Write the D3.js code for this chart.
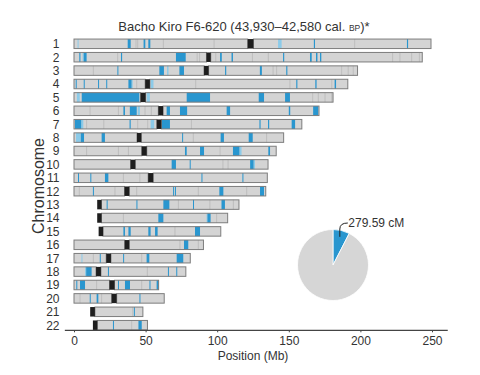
<!DOCTYPE html>
<html>
<head>
<meta charset="utf-8">
<script src="https://cdn.jsdelivr.net/npm/d3@7"></script>
<style>
    body { margin: 0; background: #fff; }
    text { font-family: "Liberation Sans", Arial, sans-serif; fill: #333; }
</style>
</head>
<body>
<svg id="chart" width="480" height="375"></svg>
<script>
const chromosomes = ['1', '2', '3', '4', '5', '6', '7', '8', '9', '10', '11',
    '12', '13', '14', '15', '16', '17', '18', '19', '20', '21', '22'];
// hg19 lengths and centromeres, Mb
const chromLengths = [249.3, 243.2, 198.0, 191.2, 180.9, 171.1, 159.1, 146.4, 141.2, 135.5, 135.0,
    133.9, 115.2, 107.3, 102.5, 90.4, 81.2, 78.1, 59.1, 63.0, 48.1, 51.3];
const centromereStart = [121.3, 92.5, 90.8, 49.7, 46.5, 58.9, 57.8, 44.0, 47.3, 39.5, 51.8,
    35.3, 16.2, 16.2, 17.2, 35.4, 22.5, 15.4, 24.8, 26.3, 11.3, 13.2];
const centromereEnd = [125.3, 95.5, 94.0, 53.0, 50.0, 62.2, 61.0, 47.0, 50.8, 42.8, 55.3,
    38.6, 19.2, 19.2, 20.3, 38.6, 25.8, 18.8, 28.3, 29.8, 14.6, 16.3];
const acrocentric = ['13', '14', '15', '21', '22'];

// [chromosome, start Mb, end Mb]
const blueSegments = [
    ['1', 37.5, 39.6], ['1', 48.6, 49.8], ['1', 51.9, 53.3], ['1', 167.5, 168.3], ['1', 232.5, 233.3],
    ['2', 3.7, 4.5], ['2', 6.8, 8.8], ['2', 32.8, 33.6], ['2', 71.2, 78.0], ['2', 102.0, 103.2],
    ['2', 110.0, 111.0], ['2', 146.0, 146.8], ['2', 164.8, 166.0], ['2', 169.0, 170.0], ['2', 171.8, 172.7],
    ['3', 30.3, 31.0], ['3', 59.6, 62.8], ['3', 73.6, 76.8], ['3', 105.5, 106.3], ['3', 129.8, 131.2],
    ['3', 148.2, 149.0],
    ['4', 1.2, 1.9], ['4', 6.8, 7.4], ['4', 16.8, 17.4], ['4', 22.5, 23.1], ['4', 38.0, 40.2],
    ['4', 155.2, 156.0], ['4', 168.5, 169.4], ['4', 182.0, 183.0],
    ['5', 5.4, 45.6], ['5', 78.7, 95.0], ['5', 129.0, 132.7], ['5', 147.4, 150.8],
    ['6', 34.5, 35.6], ['6', 39.0, 43.8], ['6', 64.7, 67.0], ['6', 74.0, 79.0], ['6', 106.6, 109.0],
    ['6', 150.0, 151.0], ['6', 167.0, 170.6],
    ['7', 0.7, 5.0], ['7', 38.8, 39.6], ['7', 61.2, 67.0], ['7', 129.5, 130.3], ['7', 135.5, 136.3],
    ['7', 152.0, 154.4],
    ['8', 4.7, 7.0], ['8', 19.3, 21.6], ['8', 75.5, 76.2], ['8', 102.4, 104.7], ['8', 122.0, 124.8],
    ['9', 77.5, 78.7], ['9', 88.0, 90.8], ['9', 111.0, 115.5], ['9', 135.7, 136.9],
    ['10', 68.2, 71.2], ['10', 80.8, 81.5], ['10', 123.0, 125.4],
    ['11', 2.8, 3.4], ['11', 11.4, 12.0], ['11', 21.6, 24.0], ['11', 89.0, 89.7], ['11', 117.6, 118.3],
    ['12', 13.2, 13.9], ['12', 69.2, 69.9], ['12', 70.5, 71.2], ['12', 101.5, 104.3], ['12', 129.9, 132.7],
    ['13', 22.8, 23.5], ['13', 43.6, 44.3], ['13', 62.4, 66.6], ['13', 83.1, 83.8], ['13', 103.0, 105.4],
    ['14', 58.9, 62.4], ['14', 93.2, 95.4],
    ['15', 34.5, 35.6], ['15', 38.0, 39.6], ['15', 51.9, 53.5], ['15', 56.6, 58.4], ['15', 84.5, 88.0],
    ['16', 76.8, 79.8],
    ['17', 18.0, 18.6], ['17', 34.3, 35.0], ['17', 50.7, 52.6], ['17', 71.7, 76.3],
    ['18', 8.5, 12.3], ['18', 23.7, 24.4], ['18', 65.6, 66.3], ['18', 71.4, 72.1],
    ['19', 1.6, 2.2], ['19', 4.2, 7.7], ['19', 30.7, 31.4], ['19', 35.6, 39.1], ['19', 52.7, 53.4],
    ['19', 57.7, 59.1],
    ['20', 11.0, 11.7], ['20', 15.8, 17.0], ['20', 45.7, 46.4],
    ['21', 41.8, 42.4],
    ['22', 27.2, 27.9], ['22', 45.0, 47.3]
];
const lightSegments = [
    ['1', 2.5, 3.2], ['1', 142.5, 145.0], ['2', 6.0, 6.8], ['3', 65.0, 66.0], ['4', 40.2, 41.0],
    ['4', 53.5, 55.5], ['5', 2.0, 4.0], ['5', 50.8, 53.0], ['6', 44.5, 46.0], ['7', 5.0, 6.5],
    ['7', 53.5, 56.0], ['8', 1.4, 4.5], ['9', 115.5, 117.0], ['10', 125.4, 126.4], ['14', 92.6, 93.2],
    ['17', 5.2, 5.9], ['18', 7.7, 8.5]
];
// thin darker grey marks inside the bars
const greyMarks = [
    ['1', 43.3], ['1', 44.5], ['1', 62.4], ['1', 97.8], ['1', 196.0],
    ['2', 30.5], ['2', 86.0], ['2', 87.7], ['2', 99.0], ['2', 124.6], ['2', 135.7], ['2', 222.5],
    ['2', 227.6], ['2', 235.8], ['2', 241.2],
    ['3', 13.5], ['3', 139.0], ['3', 141.5], ['3', 186.9], ['3', 191.5], ['3', 195.0],
    ['4', 43.8], ['4', 85.0], ['4', 150.8], ['4', 180.0],
    ['5', 166.7], ['5', 170.6], ['5', 175.3], ['5', 180.0],
    ['6', 11.2], ['6', 31.0], ['6', 49.6], ['6', 54.0],
    ['7', 8.8], ['7', 20.8], ['7', 44.5], ['7', 51.5], ['7', 82.0],
    ['8', 83.3], ['8', 134.5],
    ['9', 8.8], ['9', 31.0], ['9', 38.0], ['9', 102.0],
    ['10', 104.0], ['10', 107.6],
    ['11', 34.5], ['11', 46.0],
    ['12', 3.7], ['12', 28.6], ['12', 43.8], ['12', 86.8], ['12', 120.6],
    ['13', 72.9], ['13', 94.9], ['13', 111.3],
    ['14', 34.5], ['14', 99.6],
    ['15', 70.5],
    ['16', 74.0], ['16', 86.8],
    ['17', 13.5], ['17', 47.3],
    ['18', 51.2],
    ['19', 15.8], ['19', 47.3],
    ['20', 4.2], ['20', 19.3],
    ['21', 41.0],
    ['22', 40.3]
];
const tickValues = [0, 50, 100, 150, 200, 250];

// shared genetic length (cM) vs. the rest of the autosomes
const pieLabels = ['shared', 'rest'];
const pieValues = [279.59, 3420];

const BLUE = '#2996cf';
const LIGHT_BLUE = '#8ccbe9';
const GREY = '#d4d4d4';
const BAR_H = 9.5;

let svg = d3.select('#chart');

let x = d3.scaleLinear().domain([0, 250]).range([74, 432]);
let y = d3.scalePoint().domain(chromosomes).range([43.8, 325.2]);

let chromData = chromosomes.map((c, i) => ({
    name: c,
    length: chromLengths[i],
    cenStart: centromereStart[i],
    cenEnd: centromereEnd[i]
}));

let arms = [];
chromData.forEach(d => {
    if (!acrocentric.includes(d.name)) arms.push({ name: d.name, start: 0, end: d.cenStart });
    arms.push({ name: d.name, start: d.cenEnd, end: d.length });
});

function drawRects(group, data, cls, color) {
    group.selectAll('.' + cls)
        .data(data)
        .enter()
        .append('rect')
        .classed(cls, true)
        .attr('x', d => x(d[1]))
        .attr('y', d => y(d[0]) - BAR_H / 2)
        .attr('width', d => Math.max(x(d[2]) - x(d[1]), 1))
        .attr('height', BAR_H)
        .attr('fill', color);
}

let barGroup = svg.append('g').attr('id', 'bars-g');

barGroup.selectAll('.arm-fill')
    .data(arms)
    .enter()
    .append('rect')
    .classed('arm-fill', true)
    .attr('x', d => x(d.start))
    .attr('y', d => y(d.name) - BAR_H / 2)
    .attr('width', d => x(d.end) - x(d.start))
    .attr('height', BAR_H)
    .attr('fill', GREY);

barGroup.selectAll('.grey-mark')
    .data(greyMarks)
    .enter()
    .append('line')
    .classed('grey-mark', true)
    .attr('x1', d => x(d[1]))
    .attr('x2', d => x(d[1]))
    .attr('y1', d => y(d[0]) - BAR_H / 2)
    .attr('y2', d => y(d[0]) + BAR_H / 2)
    .attr('stroke', '#b4b4b4')
    .attr('stroke-width', 0.7);

drawRects(barGroup, lightSegments, 'light-seg', LIGHT_BLUE);
drawRects(barGroup, blueSegments, 'blue-seg', BLUE);

barGroup.selectAll('.arm-outline')
    .data(arms)
    .enter()
    .append('rect')
    .classed('arm-outline', true)
    .attr('x', d => x(d.start))
    .attr('y', d => y(d.name) - BAR_H / 2)
    .attr('width', d => x(d.end) - x(d.start))
    .attr('height', BAR_H)
    .attr('fill', 'none')
    .attr('stroke', '#7d7d7d')
    .attr('stroke-width', 1);

barGroup.selectAll('.centromere')
    .data(chromData)
    .enter()
    .append('rect')
    .classed('centromere', true)
    .attr('x', d => x(d.cenStart))
    .attr('y', d => y(d.name) - BAR_H / 2)
    .attr('width', d => x(d.cenEnd) - x(d.cenStart))
    .attr('height', BAR_H)
    .attr('fill', '#1e1e1e');

// chromosome labels
svg.append('g')
    .selectAll('text')
    .data(chromosomes)
    .enter()
    .append('text')
    .attr('x', 59.5)
    .attr('y', d => y(d))
    .attr('dy', '0.36em')
    .attr('text-anchor', 'end')
    .style('font-size', '12px')
    .text(d => d);

svg.append('text')
    .attr('transform', 'translate(44,186) rotate(-90)')
    .attr('text-anchor', 'middle')
    .style('font-size', '16px')
    .text('Chromosome');

// x axis
let axisY = 330.3;
let axisG = svg.append('g')
    .attr('transform', `translate(0,${axisY})`)
    .call(d3.axisBottom(x).tickValues(tickValues).tickSize(2).tickPadding(4));
axisG.select('.domain').remove();
axisG.selectAll('.tick line').attr('stroke', '#444');
axisG.selectAll('.tick text')
    .style('font-family', '"Liberation Sans", Arial, sans-serif')
    .style('font-size', '12px')
    .attr('fill', '#333');

svg.append('line')
    .attr('x1', x(-6.4))
    .attr('x2', x(261))
    .attr('y1', axisY)
    .attr('y2', axisY)
    .attr('stroke', '#444')
    .attr('stroke-width', 1.3);

svg.append('text')
    .attr('x', 253)
    .attr('y', 360)
    .attr('text-anchor', 'middle')
    .style('font-size', '12px')
    .text('Position (Mb)');

// title
let title = svg.append('text')
    .attr('x', 244)
    .attr('y', 31)
    .attr('text-anchor', 'middle')
    .style('font-size', '13px');
title.append('tspan').text('Bacho Kiro F6-620 (43,930\u201342,580 cal. ');
title.append('tspan').style('font-size', '8.5px').text('BP');
title.append('tspan').text(')*');

// pie of shared length
let pieCx = 333, pieCy = 265, pieR = 35.5;
let pieG = svg.append('g').attr('transform', `translate(${pieCx},${pieCy})`);
let pie = d3.pie().sort(null)(pieValues);
let arc = d3.arc().innerRadius(0).outerRadius(pieR);

pieG.selectAll('path')
    .data(pie)
    .enter()
    .append('path')
    .attr('d', arc)
    .attr('fill', (d, i) => pieLabels[i] == 'shared' ? BLUE : '#d6d6d6')
    .attr('stroke', '#fff')
    .attr('stroke-width', 0.8);

let mid = (pie[0].startAngle + pie[0].endAngle) / 2;
let p0 = { x: Math.sin(mid) * 29, y: -Math.cos(mid) * 29 };
pieG.append('path')
    .attr('d', `M${p0.x},${p0.y} L${p0.x},${-36} Q${p0.x},${-42} ${p0.x + 8},${-42}`)
    .attr('fill', 'none')
    .attr('stroke', '#222')
    .attr('stroke-width', 1);

pieG.append('text')
    .attr('x', p0.x + 8.5)
    .attr('y', -38)
    .style('font-size', '12px')
    .attr('fill', '#222')
    .text(d3.format('.2f')(pieValues[0]) + ' cM');
</script>
</body>
</html>
